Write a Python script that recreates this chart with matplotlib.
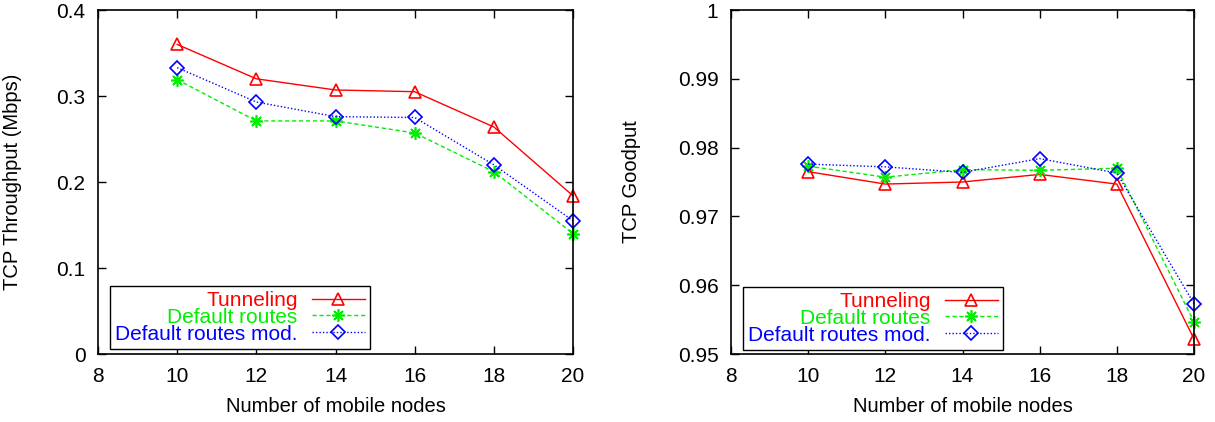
import matplotlib
matplotlib.use('Agg')
import matplotlib.pyplot as plt
from matplotlib.ticker import FuncFormatter

plt.rcParams['font.family'] = ['Liberation Sans', 'DejaVu Sans']

# Number of mobile nodes
nodes = [10, 12, 14, 16, 18, 20]

# TCP throughput (Mbps)
thr_tunnel = [0.360, 0.320, 0.307, 0.305, 0.264, 0.184]
thr_default = [0.319, 0.271, 0.271, 0.257, 0.212, 0.140]
thr_mod = [0.333, 0.293, 0.276, 0.275, 0.220, 0.155]

# TCP goodput
gp_tunnel = [0.9765, 0.9747, 0.9750, 0.9761, 0.9747, 0.9522]
gp_default = [0.9773, 0.9757, 0.9768, 0.9767, 0.9770, 0.9547]
gp_mod = [0.9776, 0.9772, 0.9764, 0.9784, 0.9763, 0.9573]

labels = ['Tunneling', 'Default routes', 'Default routes mod.']
colors = ['#ff0000', '#00ee00', '#0000ff']
styles = ['-', (0, (3, 2)), (0, (1, 1.5))]
markers = ['^', (8, 2, 0), 'D']
msizes = [8, 9, 7]

fig = plt.figure(figsize=(12.15, 4.22), dpi=100)
ax1 = fig.add_axes([98/1215, 68/422, 475/1215, 344/422])
ax2 = fig.add_axes([731/1215, 68/422, 463/1215, 344/422])

def draw(ax, series, ylim, yticks, ylabel, ylab_x, anchor):
    for vals, lab, c, ls, m, ms in zip(series, labels, colors, styles, markers, msizes):
        ax.plot(nodes, vals, color=c, linestyle=ls, linewidth=1, marker=m,
                markersize=ms, markerfacecolor='none', markeredgecolor=c,
                markeredgewidth=1.2, label=lab, clip_on=False)
    ax.set_xlim(8, 20)
    ax.set_ylim(*ylim)
    ax.set_xticks(range(8, 21, 2))
    ax.set_yticks(yticks)
    ax.yaxis.set_major_formatter(FuncFormatter(lambda v, p: '%g' % round(v, 4)))
    ax.tick_params(direction='in', length=6, width=1, top=True, right=True,
                   labelsize=15, pad=9)
    for s in ax.spines.values():
        s.set_linewidth(1.2)
    ax.set_xlabel('Number of mobile nodes', fontsize=14.5)
    ax.xaxis.set_label_coords(0.5, -0.125)
    ax.set_ylabel(ylabel, fontsize=14.5, va='center')
    ax.yaxis.set_label_coords(ylab_x, 0.5)
    leg = ax.legend(loc='lower left', bbox_to_anchor=anchor, borderaxespad=0,
                    markerfirst=False, labelcolor='linecolor', fontsize=15,
                    fancybox=False, framealpha=1, edgecolor='black',
                    handlelength=2.55, handletextpad=0.67, labelspacing=-0.1,
                    borderpad=0.25)
    leg.get_frame().set_linewidth(1)

draw(ax1, [thr_tunnel, thr_default, thr_mod], (0, 0.4),
     [0, 0.1, 0.2, 0.3, 0.4], 'TCP Throughput (Mbps)', -0.179, (0.025, 0.015))
draw(ax2, [gp_tunnel, gp_default, gp_mod], (0.95, 1.0),
     [0.95, 0.96, 0.97, 0.98, 0.99, 1.0], 'TCP Goodput', -0.214, (0.026, 0.012))

fig.savefig('out.png', dpi=100)
